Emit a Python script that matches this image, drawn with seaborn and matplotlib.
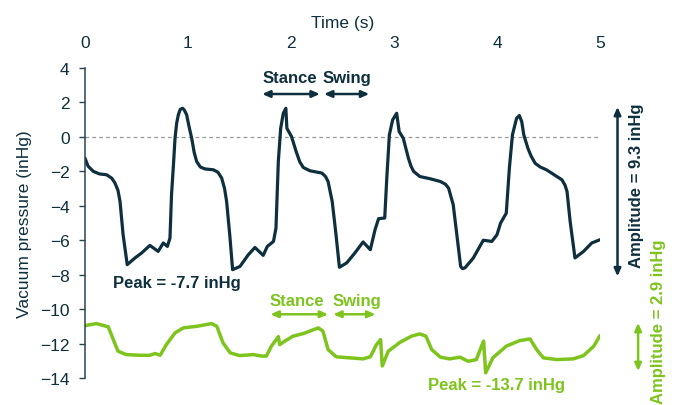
import numpy as np
import pandas as pd
import matplotlib
matplotlib.use("Agg")
import matplotlib.pyplot as plt
import seaborn as sns

# --- Data ---
dark_time = [0, 0.03, 0.08, 0.14, 0.21, 0.26, 0.29, 0.32, 0.34, 0.37, 0.41, 0.485, 0.55, 0.63,
             0.71, 0.76, 0.80, 0.825, 0.84, 0.86, 0.874, 0.89, 0.906, 0.925, 0.948, 0.965, 0.987,
             1.01, 1.036, 1.06, 1.084, 1.12, 1.165, 1.246, 1.29, 1.327, 1.355, 1.375, 1.408,
             1.433, 1.505, 1.586, 1.65, 1.73, 1.77, 1.83, 1.854, 1.877, 1.90, 1.925, 1.95, 1.96,
             2.005, 2.05, 2.085, 2.12, 2.185, 2.30, 2.335, 2.36, 2.40, 2.437, 2.47, 2.54, 2.62,
             2.70, 2.77, 2.816, 2.85, 2.91, 2.93, 2.955, 2.987, 3.026, 3.05, 3.09, 3.14, 3.165,
             3.19, 3.25, 3.35, 3.45, 3.50, 3.53, 3.575, 3.61, 3.647, 3.665, 3.69, 3.77, 3.867,
             3.95, 4.0, 4.035, 4.09, 4.12, 4.15, 4.19, 4.217, 4.24, 4.26, 4.30, 4.33, 4.37, 4.42,
             4.48, 4.63, 4.66, 4.68, 4.71, 4.757, 4.84, 4.92, 5.0]
dark_pressure = [-1.24, -1.7, -2.0, -2.15, -2.2, -2.4, -2.67, -3.1, -3.75, -5.68, -7.42, -7.03,
                 -6.74, -6.3, -6.65, -6.16, -6.36, -5.87, -3.36, -1.5, -0.08, 0.8, 1.28, 1.6, 1.66,
                 1.55, 1.28, 0.6, -0.08, -0.9, -1.43, -1.75, -1.86, -1.91, -2.05, -2.39, -3.0,
                 -3.75, -5.87, -7.71, -7.52, -6.84, -6.42, -6.88, -6.36, -6.07, -5.3, -1.43, 0.5,
                 1.37, 1.66, 0.5, 0.02, -0.85, -1.45, -1.78, -1.97, -2.1, -2.3, -2.59, -3.75,
                 -5.68, -7.57, -7.32, -6.74, -6.1, -6.55, -5.39, -4.75, -4.71, -2.39, 0.12, 0.99,
                 1.37, 0.31, -0.08, -1.24, -1.7, -2.0, -2.3, -2.43, -2.59, -2.75, -2.98, -3.94,
                 -5.68, -7.52, -7.65, -7.6, -7.03, -6.0, -6.07, -5.68, -5.0, -4.43, -1.82, 0.12,
                 1.08, 1.24, 0.89, 0.12, -0.66, -1.1, -1.53, -1.75, -1.91, -2.49, -2.8, -3.17,
                 -4.9, -7.03, -6.65, -6.16, -5.97]

green_time = [0, 0.11, 0.226, 0.275, 0.32, 0.40, 0.53, 0.63, 0.68, 0.73, 0.79, 0.874, 0.955,
              1.084, 1.23, 1.28, 1.34, 1.41, 1.50, 1.634, 1.715, 1.76, 1.81, 1.877, 1.89, 1.94,
              2.02, 2.12, 2.265, 2.31, 2.36, 2.44, 2.57, 2.70, 2.77, 2.83, 2.87, 2.886, 2.945,
              3.06, 3.17, 3.25, 3.31, 3.366, 3.45, 3.54, 3.64, 3.72, 3.80, 3.85, 3.87, 3.89,
              3.96, 4.09, 4.22, 4.32, 4.385, 4.45, 4.58, 4.74, 4.84, 4.94, 5.0]
green_pressure = [-10.96, -10.84, -11.03, -11.77, -12.44, -12.64, -12.68, -12.68, -12.58, -12.68,
                  -12.06, -11.38, -11.09, -11.0, -10.84, -11.0, -11.96, -12.54, -12.70, -12.64,
                  -12.73, -12.73, -12.15, -11.6, -12.06, -11.86, -11.57, -11.42, -11.09, -11.28,
                  -12.35, -12.77, -12.83, -12.89, -12.77, -12.06, -11.77, -13.3, -12.44, -11.92,
                  -11.57, -11.44, -11.57, -12.35, -12.79, -12.89, -12.79, -13.03, -12.93, -12.15,
                  -11.86, -13.7, -12.83, -12.15, -11.83, -11.73, -12.35, -12.83, -12.93, -12.89,
                  -12.70, -12.15, -11.54]

x_ticks = [0, 1, 2, 3, 4, 5]
y_ticks = [4, 2, 0, -2, -4, -6, -8, -10, -12, -14]

DARK = "#0e2f3d"
GREEN = "#7dc41d"
AXIS = "#2c4452"

# --- Plot ---
sns.set_style("white")
plt.rcParams["font.family"] = ["Liberation Sans", "DejaVu Sans"]

fig = plt.figure(figsize=(6.77, 4.06), dpi=100)
ax = fig.add_axes([85 / 677, 1 - 379 / 406, 515 / 677, 310 / 406])

df_dark = pd.DataFrame({"t": dark_time, "p": dark_pressure})
df_green = pd.DataFrame({"t": green_time, "p": green_pressure})

sns.lineplot(data=df_dark, x="t", y="p", ax=ax, color=DARK, linewidth=2.3,
             sort=False, estimator=None, solid_joinstyle="round", solid_capstyle="round")
sns.lineplot(data=df_green, x="t", y="p", ax=ax, color=GREEN, linewidth=2.5,
             sort=False, estimator=None, solid_joinstyle="round", solid_capstyle="round")

ax.axhline(0, color="#999999", linestyle=(0, (3, 2.5)), linewidth=0.9, zorder=0)

ax.set_xlim(0, 5)
ax.set_ylim(-14, 4)
ax.set_xticks(x_ticks)
ax.set_yticks(y_ticks)

ax.xaxis.tick_top()
ax.xaxis.set_label_position("top")
ax.tick_params(axis="x", length=0, pad=13, labelsize=12.5, labelcolor=DARK)
ax.tick_params(axis="y", direction="out", length=4, width=1, color=AXIS, pad=7,
               labelsize=12.5, labelcolor=DARK, left=True)
ax.set_xlabel("Time (s)", fontsize=12.5, color=DARK, labelpad=6)
ax.set_ylabel("Vacuum pressure (inHg)", fontsize=12.5, color=DARK, labelpad=6)

for side in ["top", "right", "bottom"]:
    ax.spines[side].set_visible(False)
ax.spines["left"].set_color(AXIS)
ax.spines["left"].set_linewidth(1.1)


def double_arrow(x0, y0, x1, y1, color, lw=1.8):
    ax.annotate("", xy=(x1, y1), xytext=(x0, y0), annotation_clip=False,
                arrowprops=dict(arrowstyle="<|-|>,head_length=0.45,head_width=0.2",
                                color=color, lw=lw, shrinkA=0, shrinkB=0))


# Stance / swing markers (upper trace)
double_arrow(1.72, 2.49, 2.28, 2.49, DARK)
double_arrow(2.32, 2.49, 2.76, 2.49, DARK)
ax.text(1.99, 3.45, "Stance", ha="center", va="center", fontsize=12, fontweight="bold", color=DARK)
ax.text(2.54, 3.45, "Swing", ha="center", va="center", fontsize=12, fontweight="bold", color=DARK)

# Stance / swing markers (lower trace)
double_arrow(1.80, -10.3, 2.36, -10.3, GREEN)
double_arrow(2.41, -10.3, 2.82, -10.3, GREEN)
ax.text(2.06, -9.5, "Stance", ha="center", va="center", fontsize=12, fontweight="bold", color=GREEN)
ax.text(2.64, -9.5, "Swing", ha="center", va="center", fontsize=12, fontweight="bold", color=GREEN)

# Peak labels
ax.text(0.89, -8.45, "Peak = -7.7 inHg", ha="center", va="center", fontsize=12,
        fontweight="bold", color=DARK)
ax.text(4.0, -14.4, "Peak = -13.7 inHg", ha="center", va="center", fontsize=12,
        fontweight="bold", color=GREEN, clip_on=False)

# Amplitude markers
double_arrow(5.17, 1.74, 5.17, -8.1, DARK)
ax.text(5.35, -2.8, "Amplitude = 9.3 inHg", rotation=90, ha="center", va="center",
        fontsize=12, fontweight="bold", color=DARK, clip_on=False)
double_arrow(5.37, -10.8, 5.37, -13.6, GREEN)
ax.text(5.57, -10.7, "Amplitude = 2.9 inHg", rotation=90, ha="center", va="center",
        fontsize=12, fontweight="bold", color=GREEN, clip_on=False)

fig.savefig("out.png", dpi=100)
plt.close(fig)
